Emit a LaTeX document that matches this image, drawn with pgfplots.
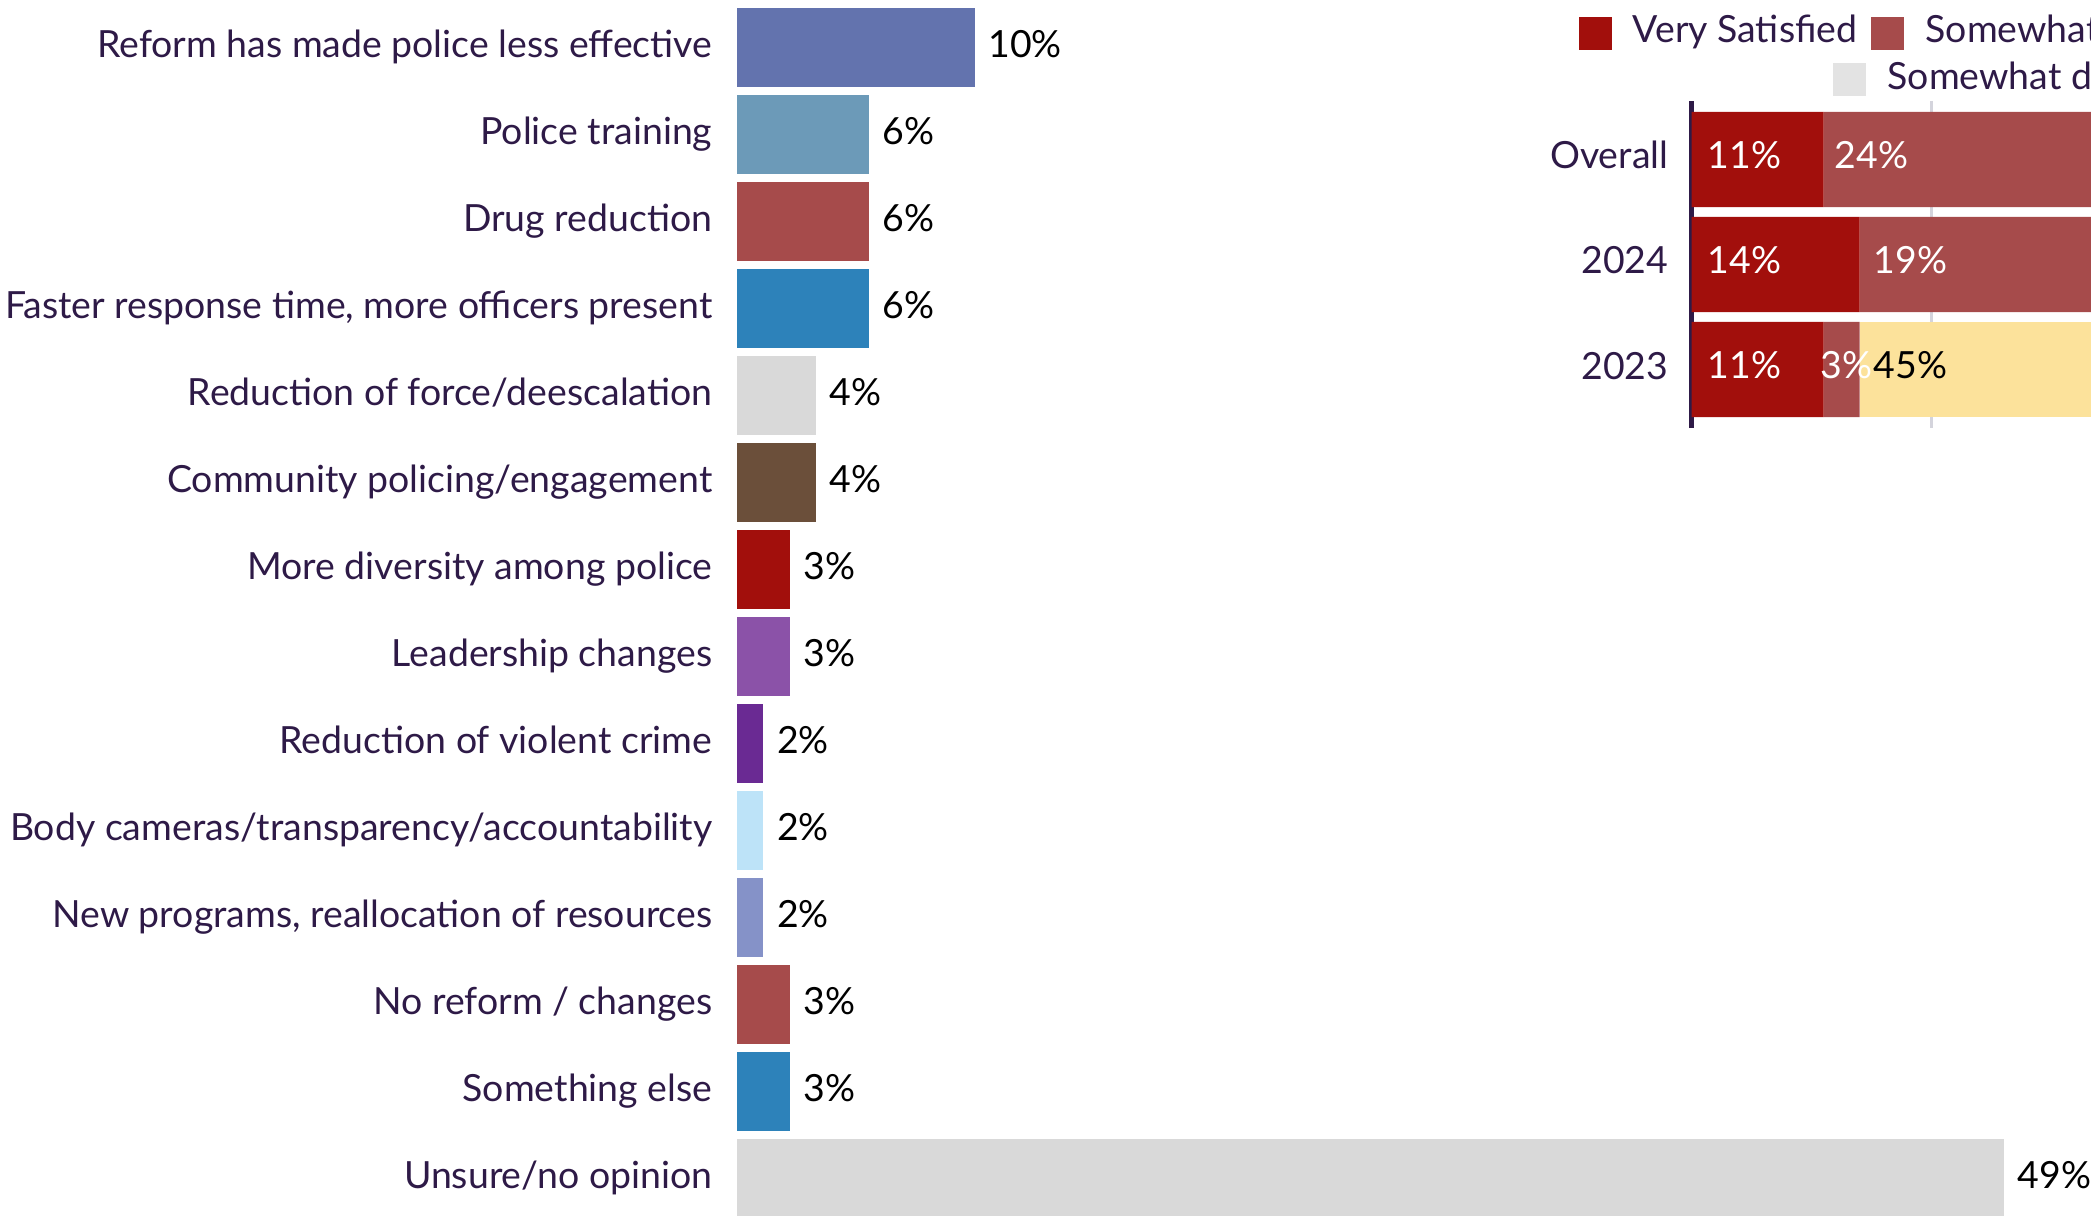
\documentclass[border=0pt]{standalone}
\usepackage{pgfplots}
\pgfplotsset{compat=1.18}
\usepackage{pgfplotstable}
\usepackage{fontspec}
\setmainfont{Lato}
\definecolor{txt}{HTML}{2E1A47}
\definecolor{vs}{HTML}{A20F0C}
\definecolor{ss}{HTML}{A64B4B}
\definecolor{neu}{HTML}{FCE29B}
\definecolor{sd}{HTML}{E3E3E3}
\definecolor{gridc}{HTML}{D4D4DC}
\definecolor{c1}{HTML}{6373AE}
\definecolor{c2}{HTML}{6C9AB8}
\definecolor{c3}{HTML}{A64B4B}
\definecolor{c4}{HTML}{2D82BA}
\definecolor{c5}{HTML}{D9D9D9}
\definecolor{c6}{HTML}{6B4F3A}
\definecolor{c7}{HTML}{A20F0C}
\definecolor{c8}{HTML}{8B52A8}
\definecolor{c9}{HTML}{6A2A93}
\definecolor{c10}{HTML}{BDE3F8}
\definecolor{c11}{HTML}{8592C8}
\definecolor{c12}{HTML}{A64B4B}
\definecolor{c13}{HTML}{2D82BA}
\definecolor{c14}{HTML}{D9D9D9}
\newcommand\lab{\fontsize{10.65pt}{12pt}\selectfont}

\pgfplotstableread{
x y lab dx
11 0 11\% -0.505
14 1 14\% -0.685
11 2 11\% -0.505
}\vsdata
\pgfplotstableread{
x y lab dx
24 0 24\% -1.335
19.4 1 19\% -1.029
3 2 3\% -0.215
}\ssdata
\pgfplotstableread{
x y lab dx
0 0 {} 0
0 1 {} 0
45 2 45\% -2.565
}\neudata

\pgfplotsset{B/.style={fill=#1, draw=none, bar shift=0pt}}

\begin{document}
\begin{tikzpicture}
\useasboundingbox (0,0) rectangle (20.91,-12.16);
\clip (0,0) rectangle (20.91,-12.16);
\begin{axis}[
 at={(14.498cm,-6.13cm)}, anchor=center,
 scale only axis, width=14.256cm, height=12.18cm,
 xbar, bar width=0.908,
 xmin=1, xmax=55, ymin=-0.5, ymax=13.5, y dir=reverse,
 axis line style={draw=none}, major tick length=0pt,
 xtick=\empty, ytick={0,...,13},
 yticklabels={Reform has made police less effective, Police training, Drug reduction, {Faster response time, more officers present}, Reduction of force/deescalation, Community policing/engagement, More diversity among police, Leadership changes, Reduction of violent crime, Body cameras/transparency/accountability, {New programs, reallocation of resources}, No reform / changes, Something else, Unsure/no opinion},
 yticklabel style={font=\lab, text=txt, anchor=base east, inner sep=0pt, xshift=-0.24cm, yshift=-0.095cm},
 /pgf/number format/assume math mode=true,
 nodes near coords={\pgfmathprintnumber{\pgfplotspointmeta}\%},
 nodes near coords style={font=\lab, text=black, anchor=base west, inner sep=0pt, xshift=0.13cm, yshift=-0.095cm},
]
\addplot[B=c1] coordinates {(10,0)};
\addplot[B=c2] coordinates {(6,1)};
\addplot[B=c3] coordinates {(6,2)};
\addplot[B=c4] coordinates {(6,3)};
\addplot[B=c5] coordinates {(4,4)};
\addplot[B=c6] coordinates {(4,5)};
\addplot[B=c7] coordinates {(3,6)};
\addplot[B=c8] coordinates {(3,7)};
\addplot[B=c9] coordinates {(2,8)};
\addplot[B=c10] coordinates {(2,9)};
\addplot[B=c11] coordinates {(2,10)};
\addplot[B=c12] coordinates {(3,11)};
\addplot[B=c13] coordinates {(3,12)};
\addplot[B=c14] coordinates {(49,13)};
\end{axis}

\begin{axis}[
 at={(22.915cm,-2.645cm)}, anchor=center,
 scale only axis, width=12cm, height=3.27cm,
 xbar stacked, bar width=0.905,
 xmin=0, xmax=100, ymin=-0.557, ymax=2.557, y dir=reverse,
 clip=false,
 axis line style={draw=none}, major tick length=0pt,
 xtick={20,40,60,80}, xticklabels={}, xmajorgrids, grid style={gridc, line width=0.03cm},
 ytick={0,1,2}, yticklabels={Overall,2024,2023},
 yticklabel style={font=\lab, text=txt, anchor=base east, inner sep=0pt, xshift=-0.225cm, yshift=-0.095cm},
 point meta=explicit symbolic,
 nodes near coords,
 visualization depends on={\thisrow{dx} \as \dx},
 nodes near coords style={font=\lab, text=white, anchor=base west, inner sep=0pt, xshift=\dx cm, yshift=-0.09cm},
]
\addplot[fill=vs, draw=none] table[x=x,y=y,meta=lab]{\vsdata};
\addplot[fill=ss, draw=none] table[x=x,y=y,meta=lab]{\ssdata};
\addplot[fill=neu, draw=none, nodes near coords style={text=black}] table[x=x,y=y,meta=lab]{\neudata};
\draw[txt, line width=0.05cm] (rel axis cs:0,0) -- (rel axis cs:0,1);
\end{axis}

\fill[vs] (15.79,-0.17) rectangle (16.12,-0.50);
\node[anchor=base west, inner sep=0pt, font=\lab, text=txt] at (16.32,-0.43) {Very Satisfied};
\fill[ss] (18.71,-0.17) rectangle (19.04,-0.50);
\node[anchor=base west, inner sep=0pt, font=\lab, text=txt] at (19.25,-0.43) {Somewhat Satisfied};
\fill[sd] (18.33,-0.63) rectangle (18.66,-0.96);
\node[anchor=base west, inner sep=0pt, font=\lab, text=txt] at (18.87,-0.90) {Somewhat dissatisfied};
\end{tikzpicture}
\end{document}
